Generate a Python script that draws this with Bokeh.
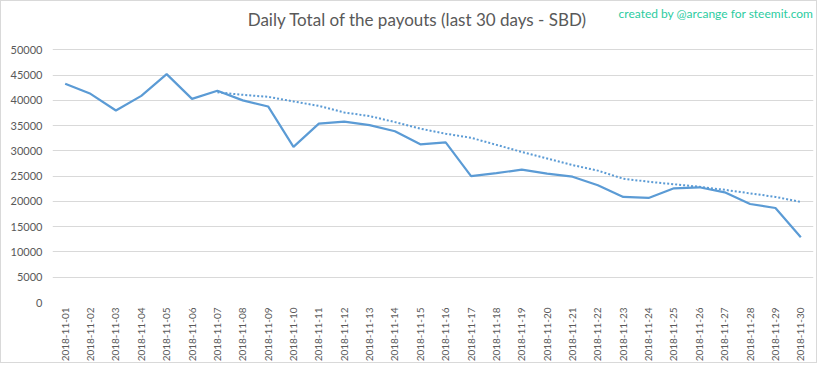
from bokeh.plotting import figure
from bokeh.models import Label, FixedTicker, FactorRange, Range1d
from bokeh.embed import file_html
from bokeh.resources import INLINE
import math

dates = ["2018-11-01", "2018-11-02", "2018-11-03", "2018-11-04", "2018-11-05",
         "2018-11-06", "2018-11-07", "2018-11-08", "2018-11-09", "2018-11-10",
         "2018-11-11", "2018-11-12", "2018-11-13", "2018-11-14", "2018-11-15",
         "2018-11-16", "2018-11-17", "2018-11-18", "2018-11-19", "2018-11-20",
         "2018-11-21", "2018-11-22", "2018-11-23", "2018-11-24", "2018-11-25",
         "2018-11-26", "2018-11-27", "2018-11-28", "2018-11-29", "2018-11-30"]

payouts = [43300, 41300, 38000, 40900, 45200, 40300, 41900, 40000, 38800, 30800,
           35400, 35800, 35100, 33900, 31300, 31700, 25000, 25600, 26300, 25500,
           24900, 23200, 20900, 20700, 22600, 22800, 21800, 19500, 18700, 12900]

# 7-day moving-average trendline, starting 2018-11-07
trend_dates = dates[6:]
trend = [41600, 41100, 40700, 39800, 38900, 37600, 36900, 35700, 34400, 33400,
         32600, 31200, 29800, 28500, 27200, 26100, 24500, 23900, 23400, 22900,
         22300, 21600, 20900, 19900]

y_ticks = [0, 5000, 10000, 15000, 20000, 25000, 30000, 35000, 40000, 45000, 50000]

title_text = "Daily Total of the payouts (last 30 days - SBD)"
credit_text = "created by @arcange for steemit.com"

FONT = "Lato"
GRAY = "#595959"
BLUE = "#5b9bd5"

W, H = 817, 363
LEFT, RIGHT, BOTTOM = 51, 5, 58
frame_h = H - BOTTOM            # frame spans whole top area (titles live inside it)
top_px = 49                     # pixel row of the 50000 gridline
y_end = 50000 * frame_h / (frame_h - top_px)

p = figure(x_range=FactorRange(factors=dates, range_padding=0),
           y_range=Range1d(0, y_end),
           width=W, height=H,
           output_backend="svg", toolbar_location=None,
           min_border_left=LEFT, min_border_right=RIGHT,
           min_border_top=0, min_border_bottom=BOTTOM)

p.outline_line_color = None
p.background_fill_color = "white"
p.border_fill_color = "white"

p.line(x=dates, y=payouts, line_color=BLUE, line_width=2.2)
p.line(x=trend_dates, y=trend, line_color=BLUE, line_width=2, line_dash="2 2")

p.xgrid.grid_line_color = None
p.ygrid.grid_line_color = "#d9d9d9"
p.ygrid.grid_line_width = 1

p.yaxis.ticker = FixedTicker(ticks=y_ticks)
p.yaxis.axis_line_color = None
p.yaxis.major_tick_line_color = None
p.yaxis.minor_tick_line_color = None
p.yaxis.major_tick_out = 0
p.yaxis.major_tick_in = 0
p.yaxis.minor_tick_out = 0
p.yaxis.major_label_text_font = FONT
p.yaxis.major_label_text_font_size = "11px"
p.yaxis.major_label_text_color = GRAY
p.yaxis.major_label_standoff = 10

p.xaxis.axis_line_color = None
p.xaxis.major_tick_line_color = None
p.xaxis.minor_tick_line_color = None
p.xaxis.major_tick_out = 0
p.xaxis.major_tick_in = 0
p.xaxis.major_label_orientation = math.pi / 2
p.xaxis.major_label_text_font = FONT
p.xaxis.major_label_text_font_size = "10px"
p.xaxis.major_label_text_color = GRAY
p.xaxis.major_label_standoff = 5

p.add_layout(Label(x=416 - LEFT, y=frame_h - 22, x_units="screen", y_units="screen",
                   text=title_text, text_align="center", text_baseline="middle",
                   text_font=FONT, text_font_size="17px", text_color=GRAY))
p.add_layout(Label(x=W - RIGHT - LEFT, y=frame_h - 16, x_units="screen", y_units="screen",
                   text=credit_text, text_align="right", text_baseline="middle",
                   text_font=FONT, text_font_size="12px", text_color="#2ccc9f"))

p.styles = {"border": "1px solid #d9d9d9"}

open("out.html", "w").write(file_html(p, INLINE))
